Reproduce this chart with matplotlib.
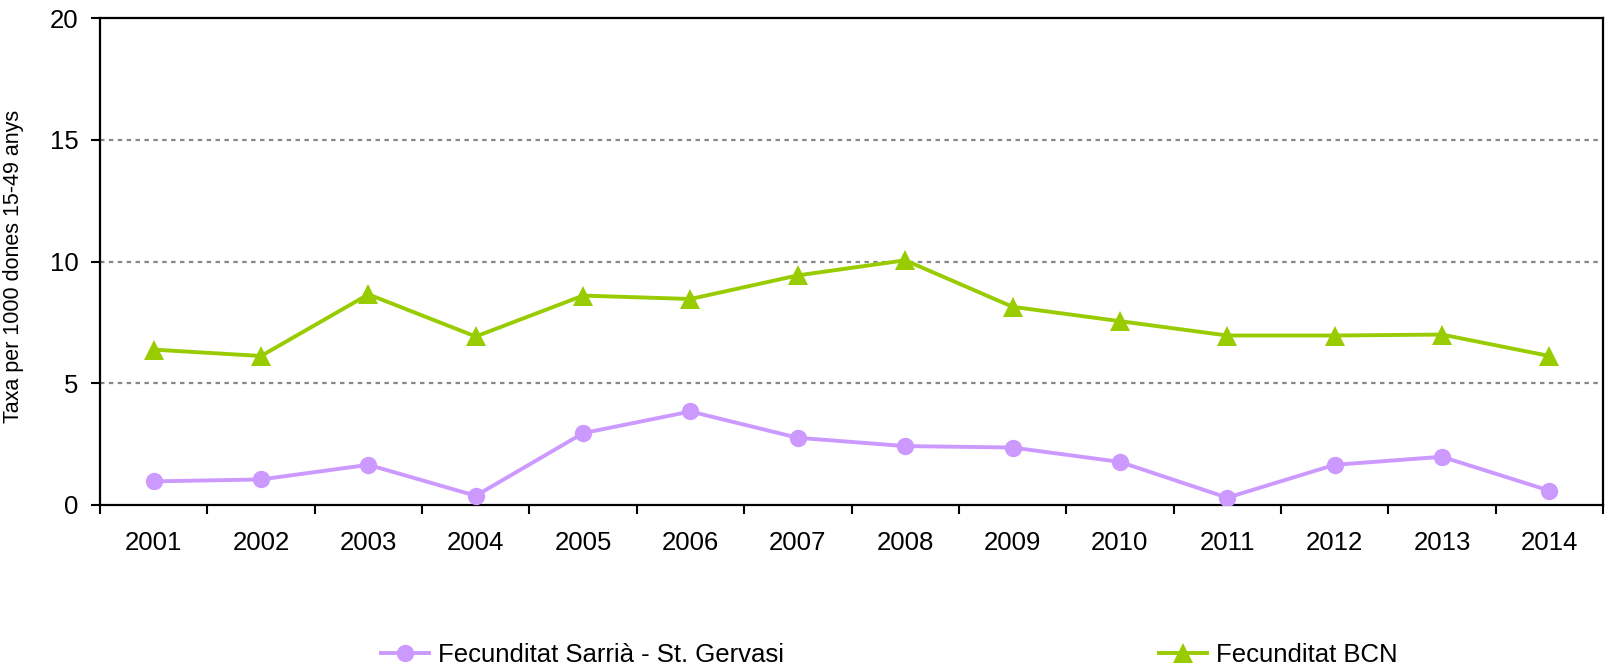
import matplotlib.pyplot as plt
import numpy as np

plt.rcParams['font.family'] = ['Liberation Sans', 'DejaVu Sans']

years = ['2001', '2002', '2003', '2004', '2005', '2006', '2007',
         '2008', '2009', '2010', '2011', '2012', '2013', '2014']
sarria = [0.97, 1.05, 1.65, 0.38, 2.95, 3.84, 2.76, 2.42, 2.36, 1.77, 0.30, 1.65, 1.98, 0.59]
bcn = [6.38, 6.12, 8.65, 6.92, 8.60, 8.46, 9.43, 10.05, 8.14, 7.55, 6.96, 6.96, 7.00, 6.12]

purple = '#CC99FF'
green = '#99CC00'

fig = plt.figure(figsize=(16.12, 6.70), dpi=100)
ax = fig.add_axes([100 / 1612, 1 - 505 / 670, 1503 / 1612, 487 / 670])

x = np.arange(len(years))
l1, = ax.plot(x, sarria, color=purple, lw=2.8, marker='o', markersize=12.5, mew=0,
              label='Fecunditat Sarrià - St. Gervasi', zorder=3)
l2, = ax.plot(x, bcn, color=green, lw=2.8, marker='^', markersize=14, mew=0,
              label='Fecunditat BCN', zorder=3)

ax.set_xlim(-0.5, len(years) - 0.5)
ax.set_ylim(0, 20)
ax.set_yticks([0, 5, 10, 15, 20])
ax.set_xticks(x)
ax.set_xticklabels(years)
ax.set_xticks(np.arange(-0.5, len(years)), minor=True)
ax.tick_params(axis='x', which='major', length=0, pad=19, labelsize=18.5)
ax.tick_params(axis='x', which='minor', length=6.5, width=1.5, direction='out')
ax.tick_params(axis='y', length=6.5, width=1.5, pad=9, labelsize=18.5)

for y in [5, 10, 15]:
    ax.axhline(y, color='#888888', lw=1.6, ls=(0, (2, 2)), zorder=1)

for s in ax.spines.values():
    s.set_linewidth(1.6)
    s.set_color('black')

ax.set_ylabel('Taxa per 1000 dones 15-49 anys', fontsize=15.5)
ax.yaxis.set_label_coords(-(100 - 24) / 1503, (505 - 266) / 487)

fig.legend(handles=[l1], loc='center left', bbox_to_anchor=(381 / 1612, 1 - 655 / 670),
           frameon=False, borderaxespad=0, borderpad=0, handlelength=1.85,
           handletextpad=0.36, fontsize=18.5)
fig.legend(handles=[l2], loc='center left', bbox_to_anchor=(1159 / 1612, 1 - 655 / 670),
           frameon=False, borderaxespad=0, borderpad=0, handlelength=1.85,
           handletextpad=0.36, fontsize=18.5)

fig.savefig('out.png', dpi=100)
